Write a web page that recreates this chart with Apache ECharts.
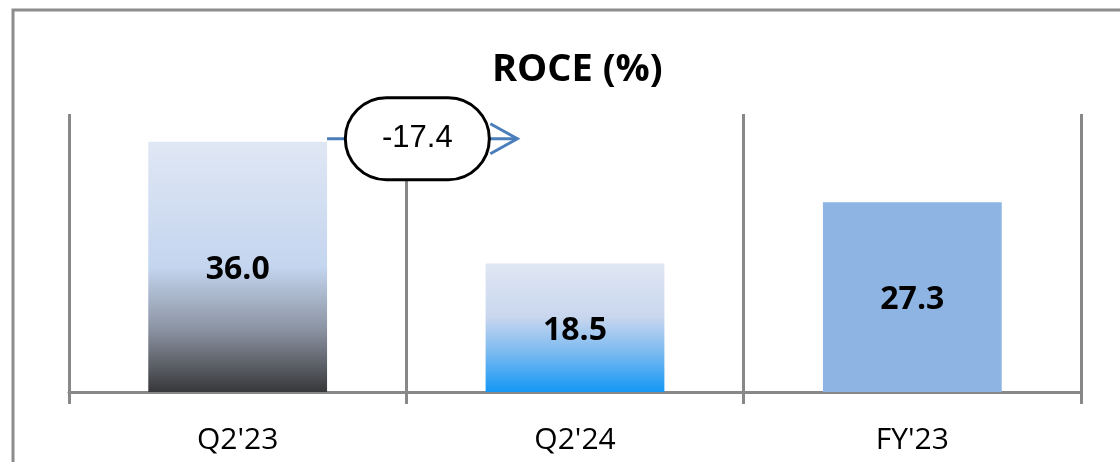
<!DOCTYPE html>
<html>

<head>
    <meta charset="utf-8">
    <title>ROCE (%)</title>
    <script src="https://cdn.jsdelivr.net/npm/echarts@6/dist/echarts.min.js"></script>
    <style>
        html, body { margin: 0; padding: 0; background: #fff; }
        #main { width: 1120px; height: 462px; }
    </style>
</head>

<body>
    <div id="main"></div>
    <script type="text/javascript">
        // data
        var categories = ["Q2'23", "Q2'24", "FY'23"];
        var roce = [36.0, 18.5, 27.3];
        var changeLabel = "-17.4";
        var yMax = 40;

        // bar fills
        var fills = [
            new echarts.graphic.LinearGradient(0, 0, 0, 1, [
                { offset: 0, color: '#E0E7F4' },
                { offset: 0.5, color: '#C4D5EF' },
                { offset: 0.75, color: '#8B93A2' },
                { offset: 1, color: '#38383A' }
            ]),
            new echarts.graphic.LinearGradient(0, 0, 0, 1, [
                { offset: 0, color: '#E0E7F3' },
                { offset: 0.42, color: '#C8D6EE' },
                { offset: 0.7, color: '#78B9F0' },
                { offset: 1, color: '#1497F5' }
            ]),
            '#8EB4E3'
        ];

        var chart = echarts.init(document.getElementById('main'));
        var option = {
            animation: false,
            backgroundColor: '#fff',
            title: {
                text: 'ROCE (%)',
                left: 487,
                top: 46,
                textStyle: {
                    fontFamily: 'Open Sans',
                    fontWeight: 'bold',
                    fontSize: 38,
                    color: '#000'
                }
            },
            grid: { left: 69, right: 39, top: 114, bottom: 70 },
            xAxis: {
                type: 'category',
                data: categories,
                axisLine: { lineStyle: { color: '#888', width: 3 } },
                axisTick: { show: true, length: 12, interval: 0, lineStyle: { color: '#888', width: 3 } },
                splitLine: { show: true, interval: 0, lineStyle: { color: '#888', width: 3 } },
                axisLabel: {
                    margin: 33,
                    fontFamily: 'Open Sans',
                    fontSize: 30,
                    color: '#000'
                }
            },
            yAxis: {
                type: 'value',
                min: 0,
                max: yMax,
                show: false,
                splitLine: { show: false }
            },
            series: [{
                type: 'bar',
                barWidth: '53%',
                data: roce.map(function (v, i) {
                    return { value: v, itemStyle: { color: fills[i] } };
                }),
                label: {
                    show: true,
                    position: 'inside',
                    offset: [0, 3],
                    formatter: function (p) { return p.value.toFixed(1); },
                    fontFamily: 'Open Sans',
                    fontWeight: 'bold',
                    fontSize: 32,
                    color: '#000'
                }
            }]
        };
        chart.setOption(option);

        // arrow + change bubble placed from the axis scales
        var p0 = chart.convertToPixel({ seriesIndex: 0 }, [0, roce[0]]);
        var p1 = chart.convertToPixel({ seriesIndex: 0 }, [1, roce[1]]);
        var barW = (p1[0] - p0[0]) * 0.53;
        var ay = p0[1] - 3;
        var mid = (p0[0] + p1[0]) / 2;
        var bx = mid + 11;
        var tip = mid + 111;
        var blue = '#4A7EBB';

        chart.setOption({
            graphic: [
                {
                    type: 'rect',
                    shape: { x: 13, y: 10, width: 1200, height: 600 },
                    style: { fill: 'none', stroke: '#8C8C8C', lineWidth: 3 },
                    z: 100
                },
                {
                    type: 'line',
                    shape: { x1: p0[0] + barW / 2, y1: ay, x2: tip, y2: ay },
                    style: { stroke: blue, lineWidth: 3 },
                    z: 100
                },
                {
                    type: 'polyline',
                    shape: { points: [[tip - 27, ay - 15], [tip, ay], [tip - 27, ay + 15]] },
                    style: { stroke: blue, lineWidth: 3, fill: 'none' },
                    z: 100
                },
                {
                    type: 'rect',
                    shape: { x: bx - 72, y: ay - 41, width: 144, height: 82, r: 41 },
                    style: { fill: '#fff', stroke: '#000', lineWidth: 3 },
                    z: 101
                },
                {
                    type: 'text',
                    x: bx,
                    y: ay,
                    style: {
                        text: changeLabel,
                        fontFamily: 'Liberation Sans',
                        fontSize: 31,
                        fill: '#000',
                        align: 'center',
                        verticalAlign: 'middle'
                    },
                    z: 102
                }
            ]
        });
    </script>
</body>

</html>
